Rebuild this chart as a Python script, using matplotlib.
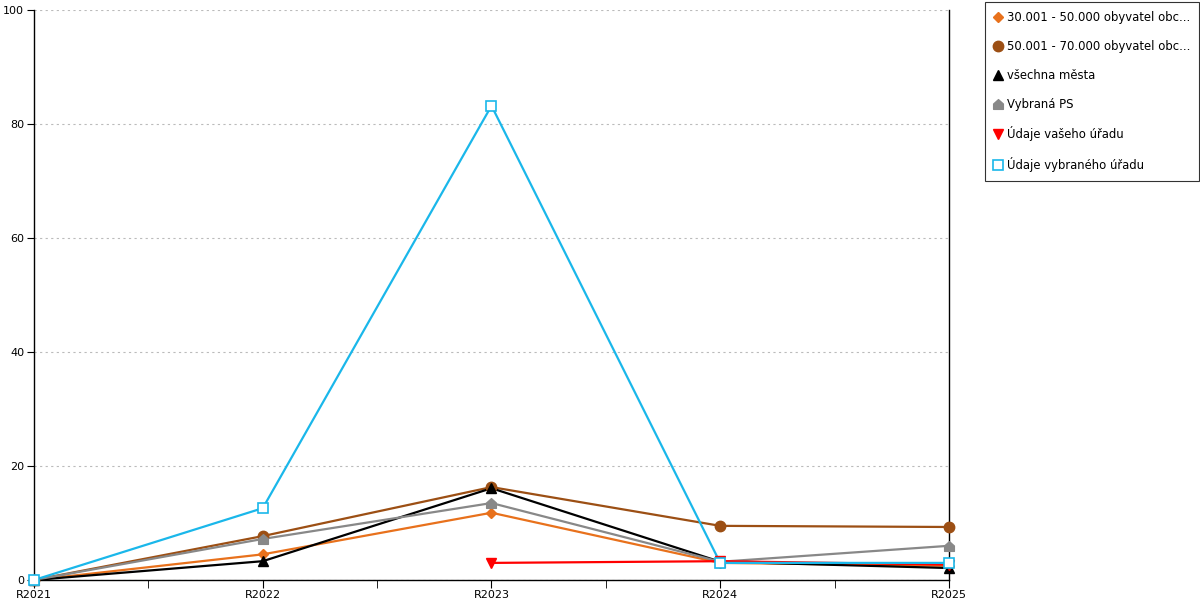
import matplotlib.pyplot as plt
from matplotlib.path import Path
import numpy as np

# category labels
years = ["R2021", "R2022", "R2023", "R2024", "R2025"]

# series values (None = no data)
obce_30_50 = [0, 4.5, 11.8, 3.0, 2.5]
obce_50_70 = [0, 7.7, 16.3, 9.5, 9.3]
vsechna_mesta = [0, 3.3, 16.1, 3.2, 2.1]
vybrana_ps = [0, 7.2, 13.5, 3.2, 6.0]
vas_urad = [None, None, 3.0, 3.3, 2.7]
vybrany_urad = [0, 12.6, 83.2, 3.0, 3.0]

labels = [
    "30.001 - 50.000 obyvatel obc...",
    "50.001 - 70.000 obyvatel obc...",
    "všechna města",
    "Vybraná PS",
    "Údaje vašeho úřadu",
    "Údaje vybraného úřadu",
]

# house-shaped marker for Vybraná PS
house = Path([(-1, -1), (1, -1), (1, 0.1), (0, 1), (-1, 0.1), (-1, -1)],
             [Path.MOVETO, Path.LINETO, Path.LINETO, Path.LINETO, Path.LINETO, Path.CLOSEPOLY])

styles = [
    (obce_30_50, "#e8711c", "D", 5.5, True),
    (obce_50_70, "#9c4f14", "o", 7.5, True),
    (vsechna_mesta, "#000000", "^", 7.5, True),
    (vybrana_ps, "#888888", house, 7, True),
    (vas_urad, "#ff0000", "v", 7.5, True),
    (vybrany_urad, "#1ab7ea", "s", 7, False),
]

fig = plt.figure(figsize=(12, 6), dpi=100)
ax = fig.add_axes([34 / 1200, 20 / 600, (949 - 34) / 1200, 570 / 600])

x = np.arange(len(years))
handles = []
for vals, color, marker, ms, filled in styles:
    y = np.array([np.nan if v is None else v for v in vals], dtype=float)
    face = color if filled else "white"
    mew = 1.0 if filled else 1.2
    ax.plot(x, y, color=color, lw=1.6, zorder=2, clip_on=False)
    ax.plot(x, y, linestyle="none", marker=marker, markersize=ms,
            markerfacecolor=face, markeredgecolor=color, markeredgewidth=mew,
            zorder=3, clip_on=False)
    # legend proxy: marker only
    h, = ax.plot([], [], linestyle="none", marker=marker, markersize=ms,
                 markerfacecolor=face, markeredgecolor=color, markeredgewidth=mew)
    handles.append(h)

ax.set_xlim(0, len(years) - 1)
ax.set_ylim(0, 100)
ax.set_yticks([0, 20, 40, 60, 80, 100])
ax.set_xticks(x)
ax.set_xticklabels(years)
ax.set_xticks(x[:-1] + 0.5, minor=True)
ax.tick_params(axis="x", which="both", direction="out", length=6, labelsize=8, pad=1)
ax.tick_params(axis="y", direction="out", length=5, labelsize=8, pad=2)

ax.grid(axis="y", color="#bbbbbb", linestyle=(0, (2, 3)), linewidth=0.8)
ax.set_axisbelow(True)

ax.spines["top"].set_visible(False)
for s in ["left", "bottom", "right"]:
    ax.spines[s].set_color("black")
    ax.spines[s].set_linewidth(1)

leg = fig.legend(handles, labels, loc="upper left",
                 bbox_to_anchor=(985 / 1200, 1 - 2 / 600),
                 fontsize=8.4, frameon=True, fancybox=False,
                 handlelength=0.7, handletextpad=0.4, labelspacing=1.36,
                 borderpad=0.77, borderaxespad=0)
leg.get_frame().set_edgecolor("black")
leg.get_frame().set_linewidth(0.8)

fig.savefig("out.png", dpi=100)
